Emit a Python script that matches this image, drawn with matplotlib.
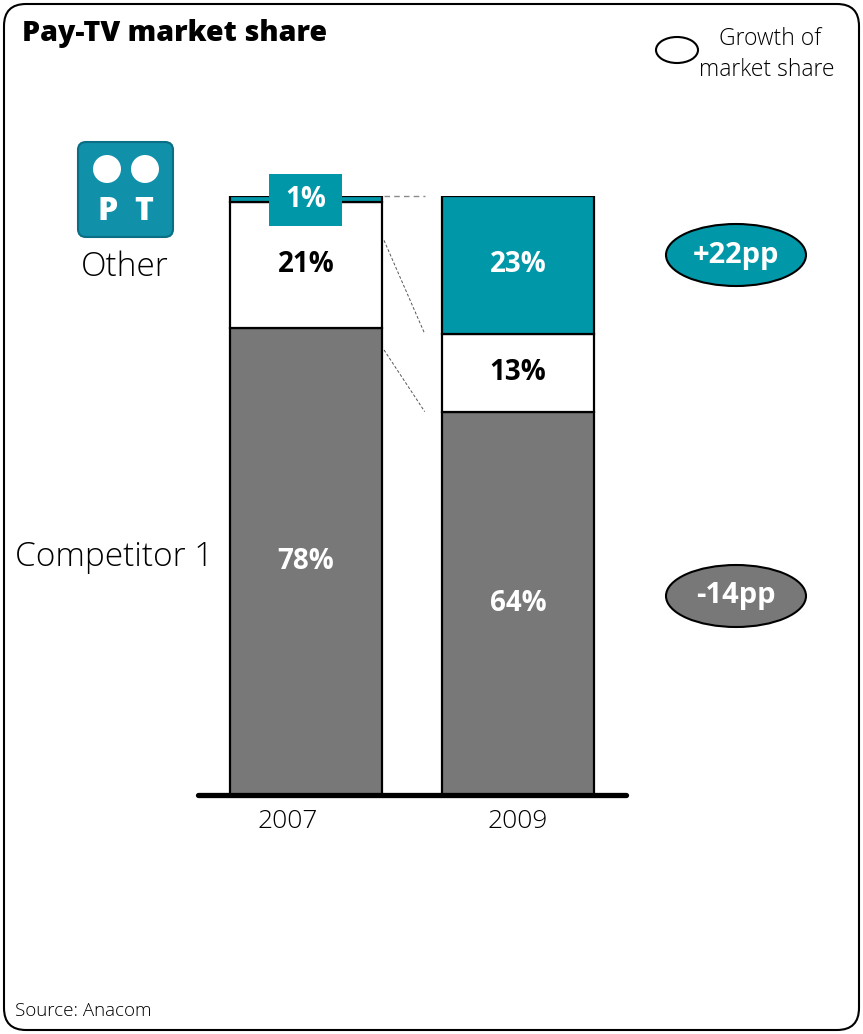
import matplotlib
matplotlib.use("Agg")
import matplotlib.pyplot as plt
from matplotlib.patches import FancyBboxPatch, Ellipse, Circle, Rectangle

# Pay-TV market share by year (percent)
years = ["2007", "2009"]
competitor1 = [78, 64]
other = [21, 13]
pt_share = [1, 23]

TEAL = "#0098A8"
GRAY = "#787878"
W, H = 863, 1034

plt.rcParams["font.family"] = ["Open Sans", "DejaVu Sans"]

fig = plt.figure(figsize=(W / 100, H / 100), dpi=100)

# ---- stacked bars ----
ax = fig.add_axes([198 / W, (H - 795) / H, (626 - 198) / W, 599 / H])
ax.set_xlim(-0.509, 1.509)
ax.set_ylim(0, 100)
x = [0, 1]
bw = 0.717
ax.bar(x, competitor1, width=bw, color=GRAY, edgecolor="black", linewidth=1.6, zorder=2)
bottom2 = [a for a in competitor1]
ax.bar(x, other, width=bw, bottom=bottom2, color="white", edgecolor="black", linewidth=1.6, zorder=2)
bottom3 = [a + b for a, b in zip(competitor1, other)]
ax.bar(x, pt_share, width=bw, bottom=bottom3, color=TEAL, edgecolor="black", linewidth=1.6, zorder=2)

for spine in ax.spines.values():
    spine.set_visible(False)
ax.set_yticks([])
ax.set_xticks([])
ax.axhline(0, color="black", lw=3.8, solid_capstyle="round", clip_on=False, zorder=5)

# year labels under the baseline
year_dx = [-0.085, 0.0]
for i in range(2):
    ax.text(x[i] + year_dx[i], -4.5, years[i], fontsize=19, fontweight="light",
            ha="center", va="center", clip_on=False)

lab_kw = dict(ha="center", va="center", fontsize=20, fontweight="bold", zorder=6)
for i in range(2):
    ax.text(x[i], competitor1[i] / 2, f"{competitor1[i]}%", color="white", **lab_kw)
    ax.text(x[i], competitor1[i] + other[i] / 2, f"{other[i]}%", color="black", **lab_kw)

# small share gets a callout box on top of the 2007 bar
ax.add_patch(Rectangle((-0.175, 95.0), 0.345, 8.7, facecolor=TEAL, edgecolor="none",
                       zorder=5, clip_on=False))
ax.text(x[0], 99.4, f"{pt_share[0]}%", color="white", **lab_kw)
ax.text(x[1], bottom3[1] + pt_share[1] / 2, f"{pt_share[1]}%", color="white", **lab_kw)

# dashed guides between the bars
gx0, gx1 = 0.368, 0.56
ax.plot([gx0, gx1], [100, 100], ls=(0, (4, 3)), color="#8a8a8a", lw=1.0, clip_on=False)
ax.plot([gx0, gx1], [92.6, bottom3[1]], ls=(0, (3, 2)), color="#555555", lw=0.7, clip_on=False)
ax.plot([gx0, gx1], [74.3, competitor1[1]], ls=(0, (3, 2)), color="#555555", lw=0.7, clip_on=False)

# ---- overlay for frame, logo, legend and notes ----
ov = fig.add_axes([0, 0, 1, 1], facecolor="none")
ov.set_xlim(0, W)
ov.set_ylim(H, 0)
ov.axis("off")

ov.add_patch(FancyBboxPatch((4, 4), W - 8, H - 8, boxstyle="round,pad=0,rounding_size=22",
                            fc="none", ec="black", lw=1.5))

ov.text(22, 33, "Pay-TV market share", fontsize=20.6, fontweight="heavy", ha="left", va="center")

# legend
ov.add_patch(Ellipse((677, 50), 42, 26, fc="white", ec="black", lw=1.5))
ov.text(770, 39, "Growth of", fontsize=16.5, fontweight="light", ha="center", va="center")
ov.text(767, 70, "market share", fontsize=16.5, fontweight="light", ha="center", va="center")

# PT logo
ov.add_patch(FancyBboxPatch((78, 142), 95, 95, boxstyle="round,pad=0,rounding_size=8",
                            fc="#1190AA", ec="#0A6E84", lw=1.5))
ov.add_patch(Circle((107, 169), 14, fc="white", ec="none"))
ov.add_patch(Circle((145, 169), 14, fc="white", ec="none"))
ov.text(108, 212, "P", color="white", fontsize=23, fontweight="heavy", ha="center", va="center")
ov.text(144, 212, "T", color="white", fontsize=23, fontweight="heavy", ha="center", va="center")

ov.text(125, 267, "Other", fontsize=24, fontweight="light", ha="center", va="center")
ov.text(15, 557, "Competitor 1", fontsize=24, fontweight="light", ha="left", va="center")

# growth bubbles
pt_growth = pt_share[1] - pt_share[0]
comp_growth = competitor1[1] - competitor1[0]
ov.add_patch(Ellipse((736, 255), 140, 62, fc=TEAL, ec="black", lw=1.5))
ov.text(736, 255, f"{pt_growth:+d}pp", color="white", fontsize=21, fontweight="bold",
        ha="center", va="center")
ov.add_patch(Ellipse((736, 596), 140, 62, fc=GRAY, ec="black", lw=1.5))
ov.text(736, 596, f"{comp_growth:+d}pp", color="white", fontsize=21, fontweight="bold",
        ha="center", va="center")

ov.text(15, 1011, "Source: Anacom", fontsize=13.5, fontweight="light", ha="left", va="center")

fig.savefig("out.png", dpi=100)
